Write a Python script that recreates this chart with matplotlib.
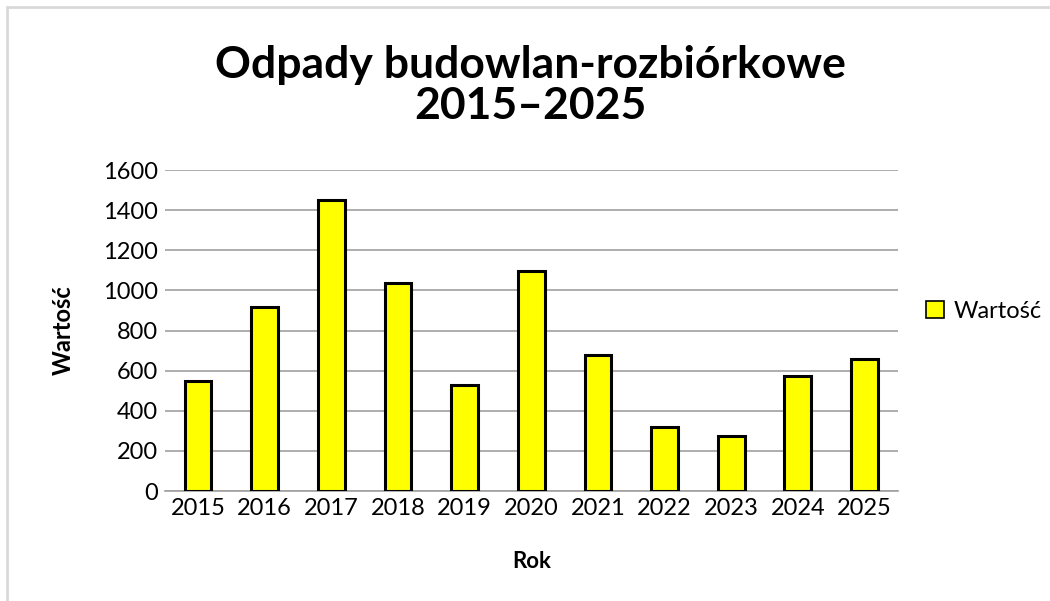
import matplotlib
matplotlib.use('Agg')
import matplotlib.pyplot as plt
from matplotlib.patches import Rectangle
import numpy as np

plt.rcParams['font.family'] = ['Lato', 'DejaVu Sans']

years = ['2015', '2016', '2017', '2018', '2019', '2020',
         '2021', '2022', '2023', '2024', '2025']
values = [550, 915, 1450, 1035, 530, 1095, 680, 320, 275, 575, 660]
y_ticks = [0, 200, 400, 600, 800, 1000, 1200, 1400, 1600]

fig = plt.figure(figsize=(10.5, 6.01), dpi=100)
ax = fig.add_axes([0.157, 0.183, 0.698, 0.534])

x = np.arange(len(years))
ax.bar(x, values, width=0.4, color='#FFFF00', edgecolor='black',
       linewidth=2.2, label='Wartość', zorder=3)

ax.set_xlim(-0.5, len(years) - 0.5)
ax.set_ylim(0, 1600)
ax.set_yticks(y_ticks)
ax.set_xticks(x)
ax.set_xticklabels(years)
ax.tick_params(axis='both', length=0, labelsize=17, pad=5)
ax.yaxis.grid(True, color='#a0a0a0', linewidth=1.2, zorder=0)
for s in ['top', 'right', 'left']:
    ax.spines[s].set_visible(False)
ax.spines['bottom'].set_color('#a0a0a0')
ax.spines['bottom'].set_linewidth(1.2)

ax.set_xlabel('Rok', fontsize=16, fontweight='bold', labelpad=23)
ax.set_ylabel('Wartość', fontsize=17, fontweight='bold', labelpad=20)

fig.text(0.505, 0.858, 'Odpady budowlan-rozbiórkowe\n2015–2025',
         ha='center', va='center', fontsize=32, fontweight='bold',
         linespacing=1.05)

leg = ax.legend(loc='center left', bbox_to_anchor=(1.01, 0.56), frameon=False,
                fontsize=17, handlelength=0.75, handleheight=0.75,
                handletextpad=0.4)
for h in leg.legend_handles:
    h.set_linewidth(1.2)

# thin grey frame around the chart area
fig.add_artist(Rectangle((7 / 1050, -0.01), 1.02, 1 - 7 / 601 + 0.01,
                         transform=fig.transFigure, fill=False,
                         edgecolor='#d9d9d9', linewidth=2))

fig.savefig('out.png', dpi=100, facecolor='white')
